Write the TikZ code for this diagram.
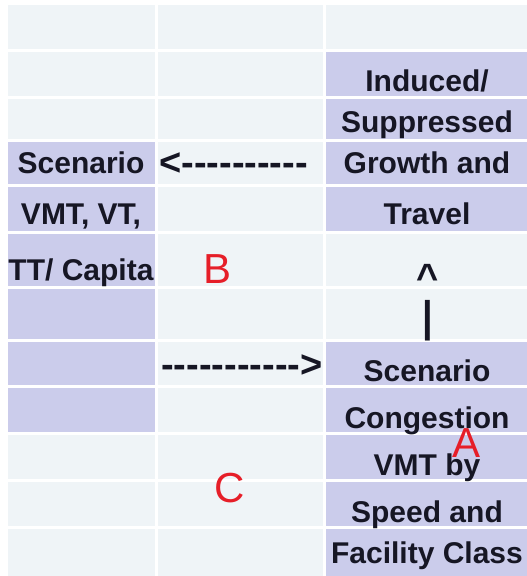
\documentclass[tikz,border=0pt]{standalone}
\usepackage{fontspec}
\newfontfamily\cellfont{Liberation Sans}
\usetikzlibrary{positioning}

\definecolor{cellgray}{RGB}{239,244,247}
\definecolor{cellblue}{RGB}{203,204,235}
\definecolor{cellink}{RGB}{22,22,36}
\definecolor{tagred}{RGB}{230,30,40}

\newcommand\dashrun[1]{\foreach \k in {1,...,#1}{-\kern0pt}}

\begin{document}
\begin{tikzpicture}[x=1pt,y=-1pt,
  cell/.style={draw=white, line width=3pt},
  txt/.style={font=\cellfont\bfseries\fontsize{30}{36}\selectfont, text=cellink, inner sep=0pt, anchor=base},
  arrowtxt/.style={txt, font=\cellfont\bfseries\fontsize{38}{44}\selectfont},
  tag/.style={font=\cellfont\fontsize{42}{50}\selectfont, text=tagred, inner sep=0pt, anchor=base},
]
\useasboundingbox[fill=white] (0,0) rectangle (527,576);

\foreach \r/\top/\bot/\ca/\cb/\cc in {
  1/3.5/50/cellgray/cellgray/cellgray,
  2/50/97/cellgray/cellgray/cellblue,
  3/97/140/cellgray/cellgray/cellblue,
  4/140/185/cellblue/cellgray/cellblue,
  5/185/232/cellblue/cellgray/cellblue,
  6/232/287/cellblue/cellgray/cellgray,
  7/287/340/cellblue/cellgray/cellgray,
  8/340/386/cellblue/cellgray/cellblue,
  9/386/433/cellblue/cellgray/cellblue,
  10/433/480/cellgray/cellgray/cellblue,
  11/480/527/cellgray/cellgray/cellblue,
  12/527/580/cellgray/cellgray/cellblue}{
  \path[cell, fill=\ca] (6.5,\top) rectangle (156.5,\bot);
  \path[cell, fill=\cb] (156.5,\top) rectangle (324.5,\bot);
  \path[cell, fill=\cc] (324.5,\top) rectangle (531,\bot);
}

\node[txt] (scen-l) at (81,173) {Scenario};
\node[txt] (vmt-l) at (81,224) {VMT, VT,};
\node[txt] (tt-l) at (81,280) {TT/ Capita};

\node[txt] (ind) at (427,91) {Induced/};
\node[txt] (sup) at (427,132) {Suppressed};
\node[txt] (grow) at (427,173) {Growth and};
\node[txt] (trav) at (427,224) {Travel};
\node[txt] (scen-r) at (427,381) {Scenario};
\node[txt] (cong) at (427,428) {Congestion};
\node[txt] (vmtby) at (427,475) {VMT by};
\node[txt] (speed) at (427,522) {Speed and};
\node[txt] (fac) at (427,563) {Facility Class};

\node[arrowtxt, anchor=base west] (back) at (159,175) {<\dashrun{10}};
\node[arrowtxt, anchor=base west] (fwd) at (161,377) {\dashrun{11}>};
\node[arrowtxt] (up) at (428,290) {\textasciicircum};
\node[arrowtxt] (stem) at (428,331) {\scalebox{1}[1.13]{\textbar}};

\node[tag] (b) at (218,283) {B};
\node[tag] (c) at (230,502) {C};
\node[tag] (a) at (467,457) {A};

\end{tikzpicture}
\end{document}
